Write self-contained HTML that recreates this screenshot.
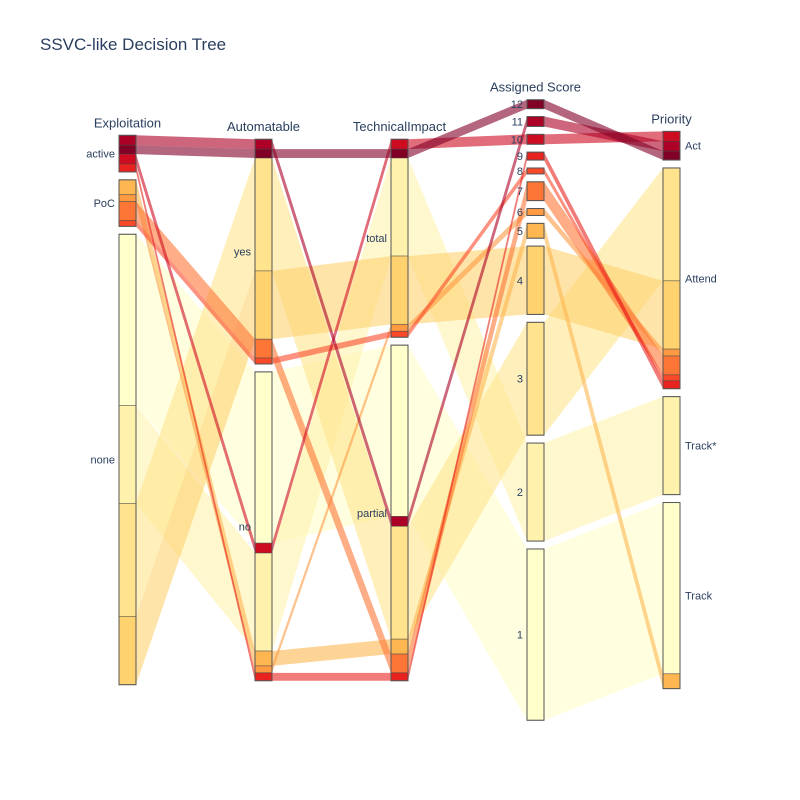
<!DOCTYPE html>
<html><head><meta charset="utf-8">
<style>
html,body{margin:0;padding:0;background:#fff;}
svg{display:block;font-family:"Liberation Sans",sans-serif;}
</style></head>
<body>
<svg id="chart" width="800" height="800" viewBox="0 0 800 800">
  <text x="40" y="50" font-size="17" fill="#2a3f5f">SSVC-like Decision Tree</text>
  <g id="links"></g>
  <g id="bars"></g>
</svg>
<script>
// ---- data (one entry per path) ----
const scores = [1,2,3,4,5,6,7,8,9,10,11,12];
const counts = [173,99,114,69,15,7,19,6,8,10,10,9];
const exploitation = ["none","none","none","none","PoC","PoC","PoC","PoC","active","active","active","active"];
const automatable = ["no","no","yes","yes","no","no","yes","yes","no","no","yes","yes"];
const technical = ["partial","total","partial","total","partial","total","partial","total","partial","total","partial","total"];
const priority = ["Track","Track*","Attend","Attend","Track","Attend","Attend","Attend","Attend","Act","Act","Act"];
// category order per dimension
const expCats = ["active","PoC","none"];
const autCats = ["yes","no"];
const tecCats = ["total","partial"];
const scoreCats = ["12","11","10","9","8","7","6","5","4","3","2","1"];
const priCats = ["Act","Attend","Track*","Track"];
// stacking order of paths (by score) within each dimension
const expOrder = [11,12,10,9,5,6,7,8,1,2,3,4];
const autOrder = [11,12,3,4,7,8,1,10,2,5,6,9];
const tecOrder = [10,12,2,4,6,8,1,11,3,5,7,9];
const scoreOrder = [12,11,10,9,8,7,6,5,4,3,2,1];
const priOrder = [10,11,12,3,4,6,7,8,9,2,1,5];

const NS = "http://www.w3.org/2000/svg";
const K = 0.99, GAP = 7.9, CY = 410, BW = 17;
const xs = [119,255,391,527,663];
const brewer = ["#ffffcc","#ffeda0","#fed976","#feb24c","#fd8d3c","#fc4e2a","#e31a1c","#bd0026","#800026"];
function hex(h){return [1,3,5].map(i=>parseInt(h.substr(i,2),16));}
function color(s){
  const mn=Math.min(...scores), mx=Math.max(...scores);
  let t=(s-mn)/(mx-mn)*(brewer.length-1);
  const i=Math.min(Math.floor(t),brewer.length-2), f=t-i;
  const a=hex(brewer[i]), b=hex(brewer[i+1]);
  return "rgb("+a.map((v,j)=>Math.round(v+(b[j]-v)*f)).join(",")+")";
}
const dims = [
  {title:"Exploitation", vals:exploitation, cats:expCats, order:expOrder, side:"left"},
  {title:"Automatable", vals:automatable, cats:autCats, order:autOrder, side:"left"},
  {title:"TechnicalImpact", vals:technical, cats:tecCats, order:tecOrder, side:"left"},
  {title:"Assigned Score", vals:scores.map(String), cats:scoreCats, order:scoreOrder, side:"left"},
  {title:"Priority", vals:priority, cats:priCats, order:priOrder, side:"right"}
];
const total = counts.reduce((a,b)=>a+b,0);
const pos = dims.map(()=>({}));
const barsG = document.getElementById("bars");
const linksG = document.getElementById("links");
function mk(tag, attrs, parent){
  const e=document.createElementNS(NS,tag);
  for(const k in attrs) e.setAttribute(k,attrs[k]);
  parent.appendChild(e); return e;
}
dims.forEach((d,di)=>{
  const used = d.cats.filter(c=>d.vals.includes(c));
  const H = total*K + (used.length-1)*GAP;
  let y = CY - H/2;
  const x = xs[di];
  const t = mk("text",{x:x+BW/2,y:y-8,"text-anchor":"middle","font-size":13,fill:"#2a3f5f"},barsG);
  
  
  t.textContent = d.title;
  used.forEach(c=>{
    const y0 = y;
    const g = mk("g",{},barsG);
    
    
    d.order.forEach(s=>{
      const i = scores.indexOf(s);
      if(i<0 || d.vals[i]!==c) return;
      const h = counts[i]*K;
      pos[di][i] = y;
      const r = mk("rect",{x:x,y:y,width:BW,height:h,fill:color(s),stroke:"rgba(68,68,68,0.55)","stroke-width":0.8},g);
      
      
      y += h;
    });
    const o = mk("rect",{x:x,y:y0,width:BW,height:y-y0,fill:"none",stroke:"#555","stroke-width":1},g);
    
    
    const lab = mk("text",{x:d.side==="left"?x-4:x+BW+5,y:(y0+y)/2+4,"text-anchor":d.side==="left"?"end":"start","font-size":11,fill:"#2a3f5f"},g);
    
    
    lab.textContent = c;
    y += GAP;
  });
});
// links: draw low scores first so reds are on top
const drawOrder = scores.map((s,i)=>i).sort((a,b)=>scores[a]-scores[b]);
drawOrder.forEach(i=>{
  const h = counts[i]*K;
  for(let di=0; di<dims.length-1; di++){
    const x1 = xs[di]+BW, x2 = xs[di+1];
    const y1 = pos[di][i], y2 = pos[di+1][i];
    const p = mk("path",{d:`M${x1},${y1}L${x2},${y2}L${x2},${y2+h}L${x1},${y1+h}Z`,fill:color(scores[i]),"fill-opacity":0.6},linksG);
    
    
  }
});
</script>
</body></html>
